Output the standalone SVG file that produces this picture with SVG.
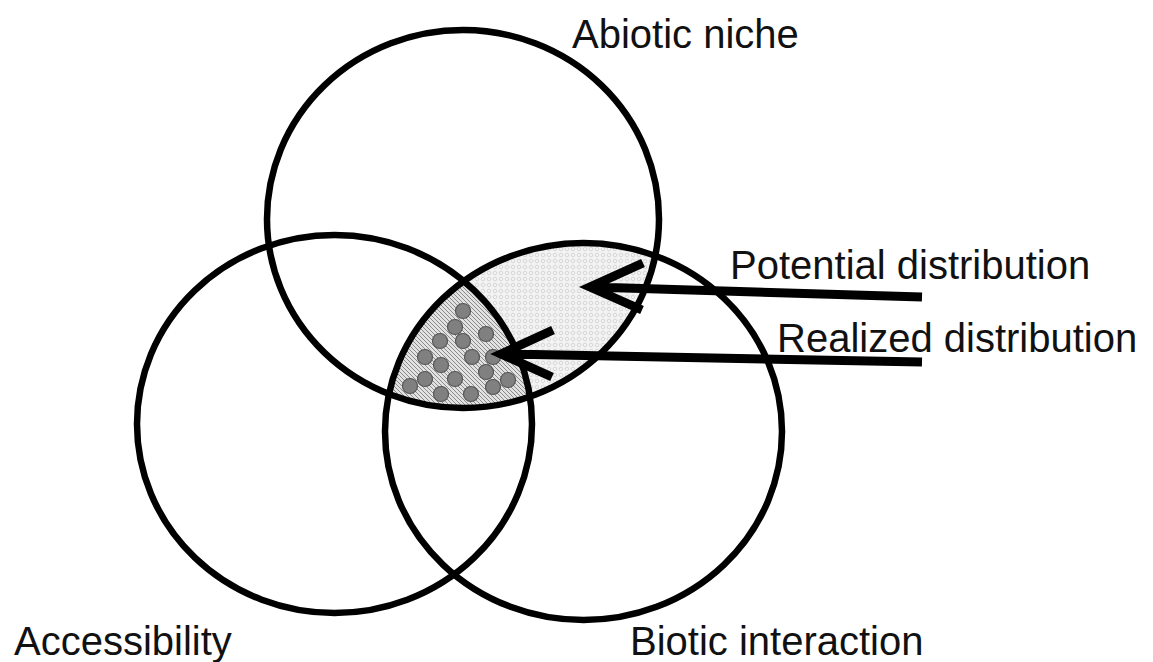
<svg xmlns="http://www.w3.org/2000/svg" width="1153" height="662" viewBox="0 0 1153 662">
<style>
.ring{fill:none;stroke:#000;stroke-width:6.5}
.lbl{font-family:"Liberation Sans",Arial,sans-serif;font-size:40px;fill:#111}
.arr{fill:none;stroke:#000;stroke-width:9;stroke-linejoin:miter;stroke-miterlimit:10}
.dot{fill:#808080;stroke:#555;stroke-width:1.2}
</style>
<defs>
<pattern id="pot" width="6" height="6" patternUnits="userSpaceOnUse">
<rect width="6" height="6" fill="#f3f3f3"/>
<circle cx="3" cy="3" r="1.8" fill="none" stroke="#cfcfcf" stroke-width="0.8"/>
</pattern>
<pattern id="hatch" width="4" height="4" patternUnits="userSpaceOnUse">
<rect width="4" height="4" fill="#e2e2e2"/>
<path d="M-1,-1 L5,5 M-1,3 L1,5 M3,-1 L5,1" stroke="#8a8a8a" stroke-width="1"/>
</pattern>
<clipPath id="clipAb"><ellipse cx="463" cy="219" rx="196" ry="189"/></clipPath>
<clipPath id="clipBi"><ellipse cx="583.5" cy="431.5" rx="198.5" ry="188.5"/></clipPath>
</defs>
<rect width="1153" height="662" fill="#fff"/>
<g id="shading" clip-path="url(#clipAb)">
<ellipse cx="583.5" cy="431.5" rx="198.5" ry="188.5" fill="url(#pot)"/>
<g clip-path="url(#clipBi)">
<ellipse cx="334.5" cy="424" rx="197.5" ry="189" fill="url(#hatch)"/>
<g id="dots">
<circle class="dot" cx="463" cy="311" r="7.5"/>
<circle class="dot" cx="455" cy="327" r="7.5"/>
<circle class="dot" cx="486" cy="334" r="7.5"/>
<circle class="dot" cx="440" cy="341" r="7.5"/>
<circle class="dot" cx="463" cy="341" r="7.5"/>
<circle class="dot" cx="425" cy="357" r="7.5"/>
<circle class="dot" cx="472" cy="357" r="7.5"/>
<circle class="dot" cx="493" cy="357" r="7.5"/>
<circle class="dot" cx="441" cy="365" r="7.5"/>
<circle class="dot" cx="425" cy="379" r="7.5"/>
<circle class="dot" cx="455" cy="379" r="7.5"/>
<circle class="dot" cx="486" cy="372" r="7.5"/>
<circle class="dot" cx="508" cy="380" r="7.5"/>
<circle class="dot" cx="410" cy="386" r="7.5"/>
<circle class="dot" cx="493" cy="387" r="7.5"/>
<circle class="dot" cx="441" cy="394" r="7.5"/>
<circle class="dot" cx="471" cy="394" r="7.5"/>
</g>
</g>
</g>
<g id="abiotic-niche">
<ellipse class="ring" cx="463" cy="219" rx="196" ry="189"/>
<text class="lbl" x="572" y="48">Abiotic niche</text>
</g>
<g id="accessibility">
<ellipse class="ring" cx="334.5" cy="424" rx="197.5" ry="189"/>
<text class="lbl" x="14" y="655">Accessibility</text>
</g>
<g id="biotic-interaction">
<ellipse class="ring" cx="583.5" cy="431.5" rx="198.5" ry="188.5"/>
<text class="lbl" x="630" y="655">Biotic interaction</text>
</g>
<g id="potential-distribution">
<text class="lbl" x="730" y="279">Potential distribution</text>
</g>
<g id="realized-distribution">
<text class="lbl" x="777" y="352">Realized distribution</text>
</g>
<g id="connectors">
<path class="arr" d="M922,297 L592,287 M643,263 L590,287 L642,310"/>
<path class="arr" d="M922,362 L504,354 M553,330 L501,354 L552,377"/>
</g>
</svg>
